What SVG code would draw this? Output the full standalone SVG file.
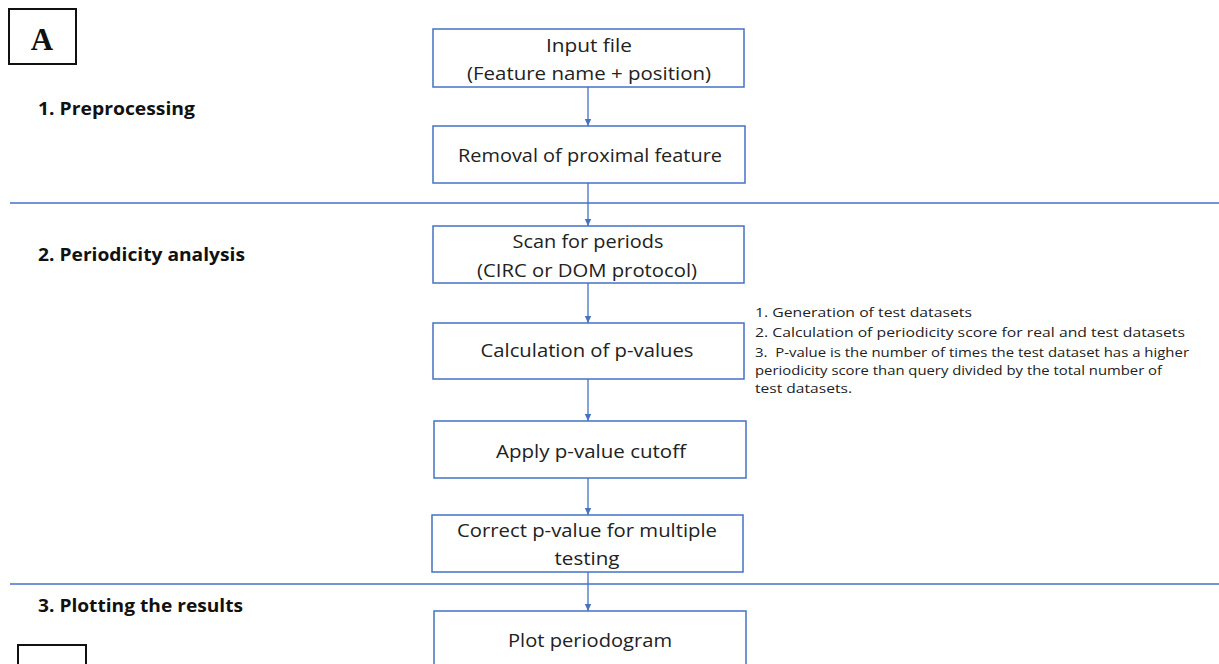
<svg xmlns="http://www.w3.org/2000/svg" width="1219" height="664" viewBox="0 0 1219 664">
<style>
.box{fill:#fff;stroke:#4472C4;stroke-width:1.5}
.bt{font-family:"Open Sans","Liberation Sans",sans-serif;font-size:18px;fill:#222;text-anchor:middle}
.hd{font-family:"Open Sans","Liberation Sans",sans-serif;font-size:17px;font-weight:bold;fill:#111}
.an{font-family:"Open Sans","Liberation Sans",sans-serif;font-size:12.5px;fill:#222}
.cn{stroke:#4472C4;stroke-width:1.3;fill:none;marker-end:url(#ah)}
.dv{stroke:#4472C4;stroke-width:1.3}
</style>
<defs>
<marker id="ah" markerWidth="8" markerHeight="8" refX="7" refY="4" orient="auto" markerUnits="userSpaceOnUse">
<path d="M0,0.8 L7,4 L0,7.2 Z" fill="#4472C4"/>
</marker>
</defs>
<rect width="1219" height="664" fill="#fff"/>
<g id="labelA">
<rect x="9" y="9" width="67" height="55" fill="#fff" stroke="#111" stroke-width="2"/>
<text x="42" y="50" font-family="Liberation Serif,serif" font-weight="bold" font-size="31" text-anchor="middle" fill="#111">A</text>
</g>
<g id="labelB">
<rect x="18" y="645" width="68" height="30" fill="#fff" stroke="#111" stroke-width="2"/>
</g>
<g id="headings">
<text class="hd" x="38" y="115" textLength="157" lengthAdjust="spacingAndGlyphs">1. Preprocessing</text>
<text class="hd" x="38" y="261" textLength="207" lengthAdjust="spacingAndGlyphs">2. Periodicity analysis</text>
<text class="hd" x="38" y="612" textLength="205" lengthAdjust="spacingAndGlyphs">3. Plotting the results</text>
</g>
<g id="dividers">
<line class="dv" x1="10" y1="203" x2="1219" y2="203"/>
<line class="dv" x1="10" y1="584" x2="1219" y2="584"/>
</g>
<g id="connectors">
<line class="cn" x1="588" y1="87" x2="588" y2="126"/>
<line class="cn" x1="588" y1="183" x2="588" y2="226"/>
<line class="cn" x1="588" y1="283" x2="588" y2="323"/>
<line class="cn" x1="588" y1="379" x2="588" y2="421"/>
<line class="cn" x1="588" y1="478" x2="588" y2="515"/>
<line class="cn" x1="588" y1="572" x2="588" y2="611"/>
</g>
<g id="n1">
<rect class="box" x="433" y="29" width="311" height="58"/>
<text class="bt" x="589" y="52" textLength="86" lengthAdjust="spacingAndGlyphs">Input file</text>
<text class="bt" x="589" y="80" textLength="244" lengthAdjust="spacingAndGlyphs">(Feature name + position)</text>
</g>
<g id="n2">
<rect class="box" x="433" y="126" width="312" height="57"/>
<text class="bt" x="590" y="162" textLength="264" lengthAdjust="spacingAndGlyphs">Removal of proximal feature</text>
</g>
<g id="n3">
<rect class="box" x="433" y="226" width="311" height="57"/>
<text class="bt" x="588" y="248" textLength="151" lengthAdjust="spacingAndGlyphs">Scan for periods</text>
<text class="bt" x="587" y="277" textLength="220" lengthAdjust="spacingAndGlyphs">(CIRC or DOM protocol)</text>
</g>
<g id="n4">
<rect class="box" x="433" y="323" width="311" height="56"/>
<text class="bt" x="587" y="357" textLength="213" lengthAdjust="spacingAndGlyphs">Calculation of p-values</text>
</g>
<g id="note">
<text class="an" x="755" y="317" textLength="217" lengthAdjust="spacingAndGlyphs">1. Generation of test datasets</text>
<text class="an" x="755" y="337" textLength="430" lengthAdjust="spacingAndGlyphs">2. Calculation of periodicity score for real and test datasets</text>
<text class="an" x="755" y="357" textLength="434" lengthAdjust="spacingAndGlyphs" xml:space="preserve">3.  P-value is the number of times the test dataset has a higher</text>
<text class="an" x="755" y="375" textLength="407" lengthAdjust="spacingAndGlyphs">periodicity score than query divided by the total number of</text>
<text class="an" x="755" y="393" textLength="97" lengthAdjust="spacingAndGlyphs">test datasets.</text>
</g>
<g id="n5">
<rect class="box" x="434" y="421" width="312" height="57"/>
<text class="bt" x="591" y="458" textLength="190" lengthAdjust="spacingAndGlyphs">Apply p-value cutoff</text>
</g>
<g id="n6">
<rect class="box" x="432" y="515" width="311" height="57"/>
<text class="bt" x="587" y="537" textLength="260" lengthAdjust="spacingAndGlyphs">Correct p-value for multiple</text>
<text class="bt" x="587" y="565" textLength="65" lengthAdjust="spacingAndGlyphs">testing</text>
</g>
<g id="n7">
<rect class="box" x="434" y="611" width="312" height="70"/>
<text class="bt" x="590" y="647" textLength="164" lengthAdjust="spacingAndGlyphs">Plot periodogram</text>
</g>
</svg>
